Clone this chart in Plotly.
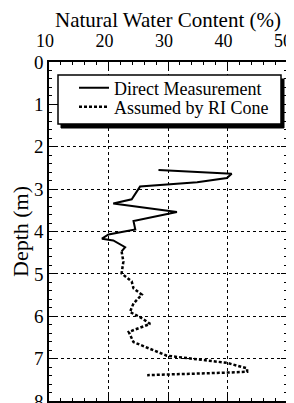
import plotly.graph_objects as go

# Direct measurement (solid)
direct_wc = [28.4, 40.7, 39.9, 34.9, 25.3, 23.9, 20.8, 31.5, 24.2, 24.5, 20.0, 18.9, 20.8, 22.8, 22.2]
direct_depth = [2.55, 2.64, 2.74, 2.84, 2.94, 3.24, 3.34, 3.54, 3.75, 3.95, 4.07, 4.17, 4.21, 4.37, 4.47]

# Assumed by RI Cone (dotted)
cone_wc = [22.2, 22.5, 22.2, 23.9, 24.2, 25.6, 24.2, 23.6, 25.3, 27.0, 23.4, 24.2, 29.8, 39.9, 43.3, 43.3, 39.9, 29.8, 26.5]
cone_depth = [4.47, 4.71, 4.99, 5.18, 5.34, 5.49, 5.70, 5.90, 6.02, 6.18, 6.37, 6.61, 6.93, 7.10, 7.23, 7.31, 7.33, 7.37, 7.39]

x_ticks = [10, 20, 30, 40, 50]
y_ticks = [0, 1, 2, 3, 4, 5, 6, 7, 8]

FONT = "Liberation Serif"

# page body has an 8px margin; plot area targeted at x 49..287, y 62..401 of the window
OFF = 8
PL, PR, PT, PB = 49, 287, 62, 401
PW, PH = PR - PL, PB - PT

def px_x(p):
    return (p - PL) / PW

def px_y(p):
    return 1 - (p - PT) / PH

fig = go.Figure()
fig.add_trace(go.Scatter(x=direct_wc, y=direct_depth, mode="lines", name="Direct Measurement",
                         line=dict(color="black", width=2), legend="legend"))
fig.add_trace(go.Scatter(x=cone_wc, y=cone_depth, mode="lines", name="Assumed by RI Cone",
                         line=dict(color="black", width=2.5, dash="3px,2px"), legend="legend2"))

# legend box with shadow
x0, x1 = px_x(58), px_x(281)
y0, y1 = px_y(124), px_y(75)
fig.add_shape(type="rect", xref="paper", yref="paper", x0=x0 + 3 / PW, x1=x1 + 3 / PW,
              y0=y0 - 4 / PH, y1=y1 - 4 / PH, fillcolor="black", line=dict(color="black", width=1),
              layer="above")
fig.add_shape(type="rect", xref="paper", yref="paper", x0=x0, x1=x1, y0=y0, y1=y1,
              fillcolor="white", line=dict(color="black", width=1.5), layer="above")

axis_common = dict(showline=True, linecolor="black", linewidth=1.5, mirror="allticks",
                   ticks="inside", tickcolor="black", ticklen=6, tickwidth=1,
                   showgrid=True, gridcolor="black", griddash="dot", gridwidth=1,
                   zeroline=False, automargin=False, ticklabeloverflow="allow",
                   tickfont=dict(family=FONT, size=19, color="black"))

leg_common = dict(xanchor="left", yanchor="middle", bgcolor="rgba(0,0,0,0)", borderwidth=0,
                  font=dict(family=FONT, size=18, color="black"))

fig.update_layout(
    width=294 - OFF, height=403 - OFF,
    margin=dict(l=PL - OFF, r=294 - PR, t=PT - OFF, b=2),
    paper_bgcolor="white", plot_bgcolor="white",
    font=dict(family=FONT, color="black"),
    showlegend=True,
    legend=dict(leg_common, x=px_x(74), y=px_y(88)),
    legend2=dict(leg_common, x=px_x(74), y=px_y(107)),
    xaxis=dict(axis_common, side="top", range=[10, 50], tickvals=x_ticks,
               ticklabelstandoff=6, ticklabelshift=-4,
               tickfont=dict(family=FONT, size=18, color="black"),
               minor=dict(dtick=2, ticks="inside", ticklen=3, tickcolor="black", showgrid=False),
               title=dict(text="Natural Water Content (%)", font=dict(family=FONT, size=21), standoff=3)),
    yaxis=dict(axis_common, range=[8, 0], tickvals=y_ticks,
               minor=dict(dtick=0.2, ticks="inside", ticklen=3, tickcolor="black", showgrid=False),
               title=dict(text="Depth (m)", font=dict(family=FONT, size=22), standoff=2)),
)

fig.write_html("out.html")
